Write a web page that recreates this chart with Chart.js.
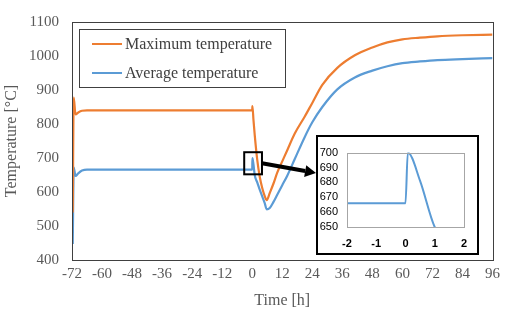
<!DOCTYPE html>
<html>
<head>
<meta charset="utf-8">
<script src="https://cdn.jsdelivr.net/npm/chart.js@4.4.1/dist/chart.umd.min.js"></script>
<style>
  html, body { margin: 0; padding: 0; background: #fff; }
  #wrap { position: relative; width: 505px; height: 312px; }
  #inset {
    position: absolute; left: 316px; top: 135px; width: 163px; height: 120px;
    box-sizing: border-box; border: 2px solid #000; background: #fff;
  }
</style>
</head>
<body>
<div id="wrap">
  <canvas id="main_chart"></canvas>
  <div id="inset"><canvas id="inset_chart"></canvas></div>
</div>
<script>
// time axis shared by both series [h]
const hours = [-71.7, -71.3, -70.6, -69.5, -68, -66, 0, 0.08, 0.5, 1, 2, 3, 4, 5, 5.8, 7, 8.5, 10, 12, 14, 17, 21, 24, 28, 34, 41, 48, 54, 60, 67, 74, 84, 96];
const maxTemp = [540, 878, 828, 834, 839, 840, 840, 853, 812, 768, 695, 645, 612, 588, 576, 597, 625, 657, 690, 723, 772, 822, 862, 915, 965, 1002, 1025, 1040, 1049, 1054, 1058, 1061, 1063];
const avgTemp = [447, 672, 647, 655, 663, 666, 666, 700, 681, 650, 628, 607, 587, 567, 549, 553, 571, 592, 620, 648, 697, 762, 805, 850, 902, 937, 957, 970, 979, 984, 988, 991, 994];

const seriesNames = ['Maximum temperature', 'Average temperature'];
const seriesColors = ['#ED7D31', '#5B9BD5'];

const xTicks = [-72, 96, 12];     // min, max, step
const yTicks = [400, 1100, 100];
const insetX = [-2, 2, 1];
const insetY = [650, 700, 10];

// window shown in the inset (hours / degC) - drawn as the black box
const zoomBox = { x0: -3.2, x1: 3.9, y0: 652, y1: 717 };

function pts(xs, ys) {
  return xs.map((x, i) => ({ x: x, y: ys[i] }));
}

const serif = 'Liberation Serif';
const textColor = '#595959';
const plain = v => String(v);

const frame = {
  id: 'frame',
  afterDatasetsDraw(chart, args, opts) {
    const a = chart.chartArea;
    const ctx = chart.ctx;
    ctx.save();
    ctx.strokeStyle = opts.color;
    ctx.lineWidth = opts.width;
    ctx.strokeRect(Math.round(a.left) + 0.5, Math.round(a.top) + 0.5, Math.round(a.right - a.left), Math.round(a.bottom - a.top));
    ctx.restore();
  }
};

const legendBox = {
  id: 'legendBox',
  afterDraw(chart) {
    const a = chart.chartArea;
    const ctx = chart.ctx;
    const x = a.left + 7, y = a.top + 7;
    ctx.save();
    ctx.strokeStyle = '#404040';
    ctx.lineWidth = 1;
    ctx.strokeRect(x + 0.5, y + 0.5, 206, 58);
    ctx.font = '16px "' + serif + '"';
    ctx.textBaseline = 'middle';
    ctx.fillStyle = '#404040';
    chart.data.datasets.forEach((ds, i) => {
      const ly = y + 15 + i * 29;
      ctx.strokeStyle = ds.borderColor;
      ctx.lineWidth = 2;
      ctx.beginPath();
      ctx.moveTo(x + 13, ly);
      ctx.lineTo(x + 43, ly);
      ctx.stroke();
      ctx.fillText(ds.label, x + 46, ly + 1);
    });
    ctx.restore();
  }
};

const zoomMark = {
  id: 'zoomMark',
  afterDraw(chart) {
    const xs = chart.scales.x, ys = chart.scales.y;
    const ctx = chart.ctx;
    const l = xs.getPixelForValue(zoomBox.x0), r = xs.getPixelForValue(zoomBox.x1);
    const t = ys.getPixelForValue(zoomBox.y1), b = ys.getPixelForValue(zoomBox.y0);
    ctx.save();
    ctx.strokeStyle = '#000';
    ctx.lineWidth = 2;
    ctx.strokeRect(l, t, r - l, b - t);
    // arrow towards the inset
    const inset = document.getElementById('inset');
    const sx = r, sy = (t + b) / 2;
    const ex = inset.offsetLeft, ey = inset.offsetTop + 38;
    const ang = Math.atan2(ey - sy, ex - sx);
    const head = 11;
    const bx = ex - head * Math.cos(ang), by = ey - head * Math.sin(ang);
    ctx.lineWidth = 4;
    ctx.beginPath();
    ctx.moveTo(sx, sy);
    ctx.lineTo(bx, by);
    ctx.stroke();
    ctx.fillStyle = '#000';
    ctx.beginPath();
    ctx.moveTo(ex, ey);
    ctx.lineTo(bx + 6 * Math.sin(ang), by - 6 * Math.cos(ang));
    ctx.lineTo(bx - 6 * Math.sin(ang), by + 6 * Math.cos(ang));
    ctx.closePath();
    ctx.fill();
    ctx.restore();
  }
};

const datasets = [
  { label: seriesNames[0], data: pts(hours, maxTemp), borderColor: seriesColors[0], backgroundColor: seriesColors[0] },
  { label: seriesNames[1], data: pts(hours, avgTemp), borderColor: seriesColors[1], backgroundColor: seriesColors[1] }
];

var ctx = document.getElementById('main_chart').getContext('2d');
const mainChart = new Chart(ctx, {
  type: 'line',
  data: { datasets: datasets },
  options: {
    responsive: true,
    maintainAspectRatio: false,
    animation: false,
    layout: { padding: { top: 10, right: 12, left: 0, bottom: 0 } },
    elements: {
      line: { borderWidth: 2.2, cubicInterpolationMode: 'monotone' },
      point: { radius: 0 }
    },
    plugins: {
      legend: { display: false },
      tooltip: { enabled: false },
      frame: { color: '#404040', width: 1 }
    },
    scales: {
      x: {
        type: 'linear',
        min: xTicks[0], max: xTicks[1],
        ticks: { stepSize: xTicks[2], color: textColor, padding: 5, maxRotation: 0, autoSkip: false, callback: plain, font: { family: serif, size: 15 } },
        grid: { display: false, drawTicks: false },
        border: { display: false },
        title: { display: true, text: 'Time [h]', color: textColor, padding: { top: 0, bottom: 2 }, font: { family: serif, size: 16 } },
        afterFit(scale) { scale.height = 52; }
      },
      y: {
        min: yTicks[0], max: yTicks[1],
        ticks: { stepSize: yTicks[2], color: textColor, padding: 13, autoSkip: false, callback: plain, font: { family: serif, size: 15 } },
        grid: { display: false, drawTicks: false },
        border: { display: false },
        title: { display: true, text: 'Temperature [°C]', color: textColor, padding: { top: 2, bottom: 0 }, font: { family: serif, size: 16 } },
        afterFit(scale) { scale.width = 72; }
      }
    }
  },
  plugins: [frame, legendBox, zoomMark]
});

var ctx2 = document.getElementById('inset_chart').getContext('2d');
const insetChart = new Chart(ctx2, {
  type: 'line',
  data: {
    datasets: [
      { label: seriesNames[1], data: pts(hours, avgTemp), borderColor: seriesColors[1], backgroundColor: seriesColors[1] }
    ]
  },
  options: {
    responsive: true,
    maintainAspectRatio: false,
    animation: false,
    layout: { padding: { top: 5, right: 10, left: 0, bottom: 0 } },
    elements: {
      line: { borderWidth: 2, cubicInterpolationMode: 'monotone' },
      point: { radius: 0 }
    },
    plugins: {
      legend: { display: false },
      tooltip: { enabled: false },
      frame: { color: '#a6a6a6', width: 1 }
    },
    scales: {
      x: {
        type: 'linear',
        min: insetX[0], max: insetX[1],
        ticks: { stepSize: insetX[2], color: '#000', padding: 10, maxRotation: 0, autoSkip: false, font: { family: 'Liberation Sans', size: 11, weight: 'bold' } },
        grid: { display: false, drawTicks: false },
        border: { display: false },
        afterFit(scale) { scale.height = 26; }
      },
      y: {
        min: insetY[0], max: insetY[1],
        ticks: { stepSize: insetY[2], color: '#000', padding: 9, autoSkip: false, font: { family: 'Liberation Sans', size: 11 } },
        grid: { display: false, drawTicks: false },
        border: { display: false },
        afterFit(scale) { scale.width = 29; }
      }
    }
  },
  plugins: [frame]
});
</script>
</body>
</html>
